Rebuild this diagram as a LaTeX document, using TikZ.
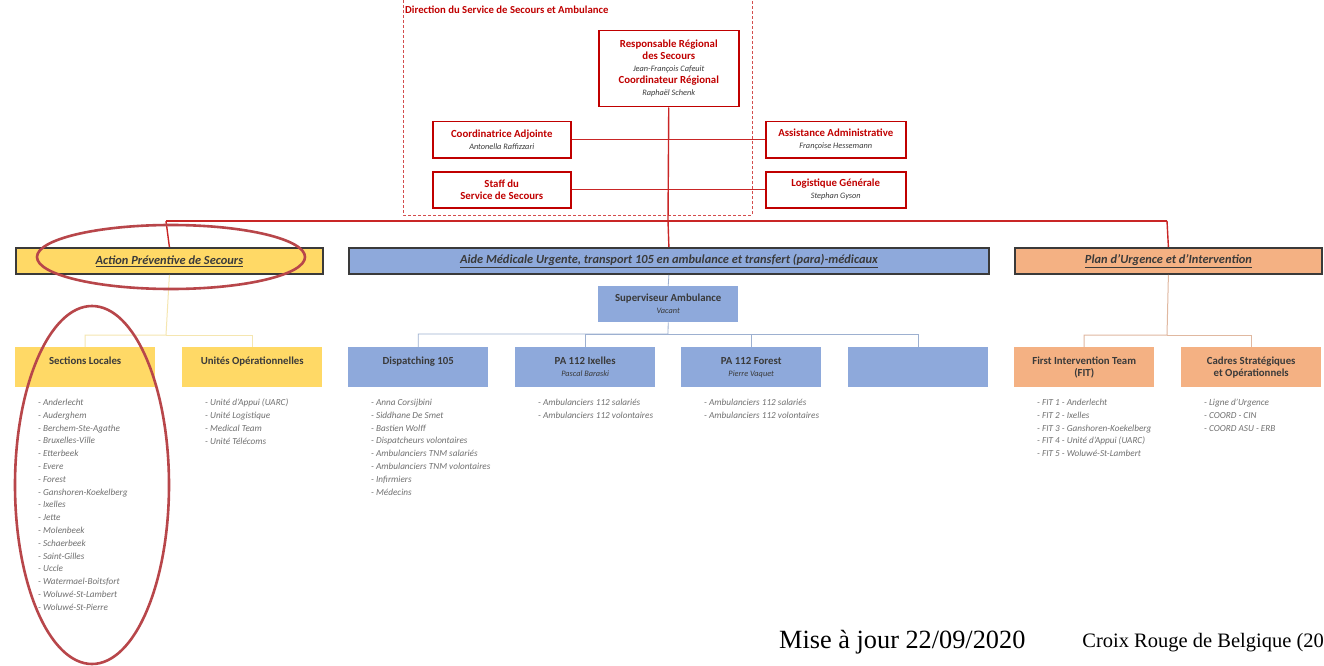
\documentclass[tikz,border=0pt]{standalone}
\usepackage{fontspec}
\setmainfont{Carlito}
\newfontfamily\timesf{Liberation Serif}
\usetikzlibrary{positioning}
\definecolor{crred}{HTML}{C00000}
\definecolor{ellred}{HTML}{B8464A}
\definecolor{yel}{HTML}{FFD966}
\definecolor{blu}{HTML}{8EA9DB}
\definecolor{ora}{HTML}{F4B183}
\definecolor{darkb}{HTML}{3A3A3A}
\definecolor{listg}{HTML}{707070}
\definecolor{yline}{HTML}{F5E6B0}
\definecolor{bline}{HTML}{9DB0D0}
\definecolor{oline}{HTML}{E0B8A0}
\newcommand{\bt}[1]{{\fontsize{10.8}{13.3}\selectfont\bfseries #1}}
\newcommand{\nmt}[1]{{\fontsize{8.3}{12}\selectfont\itshape #1}}
\tikzset{
  redbox/.style={draw=crred, line width=1.5pt, fill=white, minimum width=#1, minimum height=36pt, inner sep=1pt, align=center, text=crred, anchor=north west},
  topbox/.style={draw=darkb, line width=1.8pt, minimum height=26pt, inner sep=1pt, align=center, anchor=north west, text=darkb},
  subbox/.style={draw=none, minimum width=140pt, minimum height=40pt, inner sep=2pt, align=center, anchor=north west, text=darkb},
  listtxt/.style={anchor=north west, inner sep=0pt, align=left, text=listg, font=\fontsize{9.2}{12.8}\selectfont\itshape},
  redline/.style={draw=crred!85, line width=1.4pt},
  ellipsestyle/.style={draw=ellred, line width=2.6pt},
}
\begin{document}
\begin{tikzpicture}[x=1pt,y=-1pt]
\useasboundingbox[fill=white] (0,0) rectangle (1324,666);

% dashed frame
\draw[crred!70, densely dashed, line width=0.6pt] (403,0) -- (403,215) -- (752,215) -- (752,0);
\node[anchor=base west, inner sep=0pt, text=crred, font=\fontsize{10.7}{12}\selectfont\bfseries] (dirtitle) at (405,14) {Direction du Service de Secours et Ambulance};

% red boxes
\node[redbox=140pt, minimum height=76pt] (resp) at (598,30) {\bt{Responsable Régional}\\\bt{des Secours}\\{\color{darkb}\nmt{Jean-François Cafeuit}}\\\bt{Coordinateur Régional}\\{\color{darkb}\nmt{Raphaël Schenk}}};
\node[redbox=138pt] (coord) at (432,121) {\bt{Coordinatrice Adjointe}\\{\color{darkb}\nmt{Antonella Raffizzari}}};
\node[redbox=140pt] (assist) at (765,121) {\bt{Assistance Administrative}\\{\color{darkb}\nmt{Françoise Hessemann}}};
\node[redbox=138pt] (staff) at (432,171) {\bt{Staff du}\\\bt{Service de Secours}};
\node[redbox=140pt] (logi) at (765,171) {\bt{Logistique Générale}\\{\color{darkb}\nmt{Stephan Gyson}}};

\coordinate (busc) at (668,221);
\coordinate (busl) at (166,221);
\coordinate (busr) at (1167,221);
\draw[redline] (resp.south) -- (busc);
\draw[redline] (coord.east) -- (assist.west);
\draw[redline] (staff.east) -- (logi.west);

% level 1
\node[topbox, fill=yel, minimum width=307pt] (apv) at (15,247) {\fontsize{12.4}{14}\selectfont\bfseries\itshape\underline{Action Préventive de Secours}};
\node[topbox, fill=blu, minimum width=640pt] (amu) at (348,247) {\fontsize{12.4}{14}\selectfont\bfseries\itshape\underline{Aide Médicale Urgente, transport 105 en ambulance et transfert (para)-médicaux}};
\node[topbox, fill=ora, minimum width=307pt] (pui) at (1014,247) {\fontsize{12.4}{14}\selectfont\bfseries\itshape\underline{Plan d'Urgence et d'Intervention}};

\draw[redline] (busl) -- (busr);
\draw[redline] (busl) -- (apv.north);
\draw[redline] (busc) -- (amu.north);
\draw[redline] (busr) -- (pui.north);

% supervisor
\node[subbox, fill=blu, minimum width=140pt, minimum height=36pt] (sup) at (598,286) {\bt{Superviseur Ambulance}\\\nmt{Vacant}};
\draw[bline, line width=0.8pt] (amu.south) -- (sup.north);

% level 3
\node[subbox, fill=yel] (sl) at (15,347) {\bt{Sections Locales}\\[1pt]};
\node[subbox, fill=yel] (uo) at (182,347) {\bt{Unités Opérationnelles}\\[1pt]};
\node[subbox, fill=blu] (disp) at (348,347) {\bt{Dispatching 105}\\[1pt]};
\node[subbox, fill=blu] (ix) at (515,347) {\bt{PA 112 Ixelles}\\\nmt{Pascal Baraski}};
\node[subbox, fill=blu] (fo) at (681,347) {\bt{PA 112 Forest}\\\nmt{Pierre Vaquet}};
\node[subbox, fill=blu] (emp) at (848,347) {};
\node[subbox, fill=ora] (fit) at (1014,347) {\bt{First Intervention Team}\\\bt{(FIT)}};
\node[subbox, fill=ora] (cad) at (1181,347) {\bt{Cadres Stratégiques}\\\bt{et Opérationnels}};

% connectors level 2->3
\draw[yline, line width=1pt] (apv.south) -- (166,335) -| (sl.north);
\draw[yline, line width=1pt] (166,335) -| (uo.north);
\draw[bline, line width=0.8pt] (sup.south) -- (668,334) -| (disp.north);
\draw[bline, line width=0.8pt] (668,334) -| (ix.north);
\draw[bline, line width=0.8pt] (668,334) -| (fo.north);
\draw[bline, line width=0.8pt] (668,334) -| (emp.north);
\draw[oline, line width=1pt] (pui.south) -- (1167,335) -| (fit.north);
\draw[oline, line width=1pt] (1167,335) -| (cad.north);

% lists
\node[listtxt] (l1) at (38,399) {- Anderlecht\\- Auderghem\\- Berchem-Ste-Agathe\\- Bruxelles-Ville\\- Etterbeek\\- Evere\\- Forest\\- Ganshoren-Koekelberg\\- Ixelles\\- Jette\\- Molenbeek\\- Schaerbeek\\- Saint-Gilles\\- Uccle\\- Watermael-Boitsfort\\- Woluwé-St-Lambert\\- Woluwé-St-Pierre};
\node[listtxt] (l2) at (205,399) {- Unité d'Appui (UARC)\\- Unité Logistique\\- Medical Team\\- Unité Télécoms};
\node[listtxt] (l3) at (371,399) {- Anna Corsijbini\\- Siddhane De Smet\\- Bastien Wolff\\- Dispatcheurs volontaires\\- Ambulanciers TNM salariés\\- Ambulanciers TNM volontaires\\- Infirmiers\\- Médecins};
\node[listtxt] (l4) at (538,399) {- Ambulanciers 112 salariés\\- Ambulanciers 112 volontaires};
\node[listtxt] (l5) at (704,399) {- Ambulanciers 112 salariés\\- Ambulanciers 112 volontaires};
\node[listtxt] (l6) at (1037,399) {- FIT 1 - Anderlecht\\- FIT 2 - Ixelles\\- FIT 3 - Ganshoren-Koekelberg\\- FIT 4 - Unité d'Appui (UARC)\\- FIT 5 - Woluwé-St-Lambert};
\node[listtxt] (l7) at (1204,399) {- Ligne d'Urgence\\- COORD - CIN\\- COORD ASU - ERB};

% ellipses
\draw[ellipsestyle] (171,257) ellipse [x radius=134pt, y radius=32pt];
\draw[ellipsestyle] (92,485) ellipse [x radius=77pt, y radius=179pt];

% footer
\node[anchor=base west, inner sep=0pt, font=\timesf\fontsize{26.3}{28}\selectfont] (maj) at (779,648) {Mise à jour 22/09/2020};
\node[anchor=base east, inner sep=0pt, font=\timesf\fontsize{20.5}{22}\selectfont] (crb) at (1324,647) {Croix Rouge de Belgique (20};
\end{tikzpicture}
\end{document}
